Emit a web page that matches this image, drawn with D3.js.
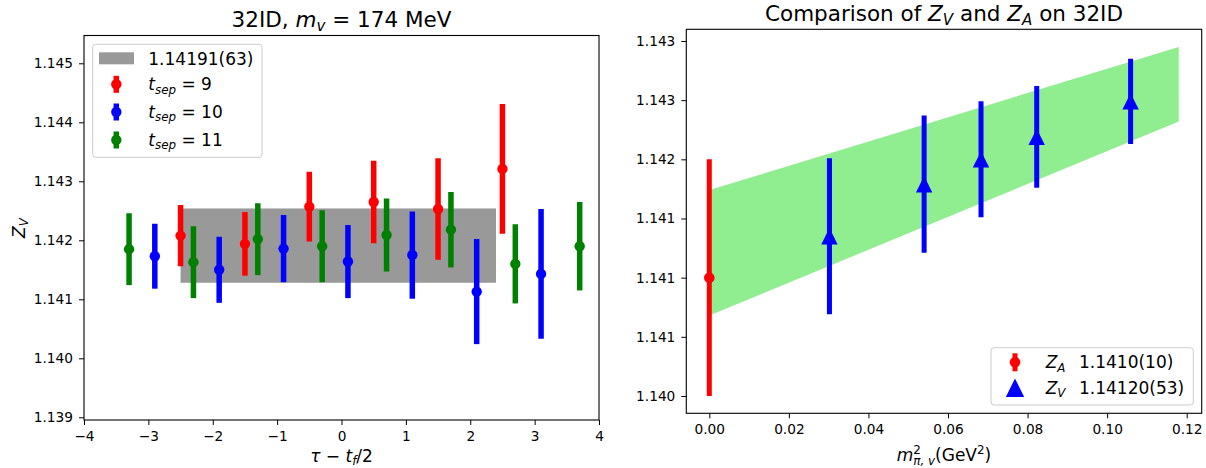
<!DOCTYPE html>
<html>
<head>
<meta charset="utf-8">
<script src="https://cdn.jsdelivr.net/npm/d3@7"></script>
<style>
  html, body { margin: 0; padding: 0; background: #fff; }
  svg text { font-family: "DejaVu Sans", sans-serif; fill: #000; }
</style>
</head>
<body>
<svg id="chart" width="1206" height="468"></svg>
<script>
// ---------------- data: left panel ----------------
const leftXTicks = [-4, -3, -2, -1, 0, 1, 2, 3, 4];
const leftXLabels = ["\u22124", "\u22123", "\u22122", "\u22121", "0", "1", "2", "3", "4"];
const leftYTicks = [1.139, 1.140, 1.141, 1.142, 1.143, 1.144, 1.145];
const leftYLabels = ["1.139", "1.140", "1.141", "1.142", "1.143", "1.144", "1.145"];

const tsep9X   = [-2.5, -1.5, -0.5, 0.5, 1.5, 2.5];
const tsep9Y   = [1.14208, 1.14194, 1.14257, 1.14265, 1.14253, 1.14321];
const tsep9Err = [0.00052, 0.00054, 0.00059, 0.00070, 0.00086, 0.00110];

const tsep10X   = [-2.9, -1.9, -0.9, 0.1, 1.1, 2.1, 3.1];
const tsep10Y   = [1.14173, 1.14150, 1.14186, 1.14164, 1.14175, 1.14113, 1.14143];
const tsep10Err = [0.00055, 0.00056, 0.00057, 0.00062, 0.00074, 0.00089, 0.00110];

const tsep11X   = [-3.3, -2.3, -1.3, -0.3, 0.7, 1.7, 2.7, 3.7];
const tsep11Y   = [1.14185, 1.14163, 1.14202, 1.14190, 1.14209, 1.14218, 1.14160, 1.14190];
const tsep11Err = [0.00061, 0.00061, 0.00061, 0.00061, 0.00062, 0.00064, 0.00067, 0.00075];

const fitMean = 1.14191;
const fitErr = 0.00063;
const fitRange = [-2.5, 2.4];
const fitLabel = "1.14191(63)";

// ---------------- data: right panel ----------------
const rightXTicks = [0.00, 0.02, 0.04, 0.06, 0.08, 0.10, 0.12];
const rightXLabels = ["0.00", "0.02", "0.04", "0.06", "0.08", "0.10", "0.12"];
const rightYTicks = [1.1400, 1.1405, 1.1410, 1.1415, 1.1420, 1.1425, 1.1430];
const rightYLabels = ["1.140", "1.141", "1.141", "1.141", "1.142", "1.143", "1.143"];

const zaX = [0.0];
const zaY = [1.1410];
const zaErr = [0.0010];
const zaLabel = "1.1410(10)";

const zvX = [0.0302, 0.0540, 0.0683, 0.0823, 0.1059];
const zvY = [1.14135, 1.14179, 1.14200, 1.14219, 1.14249];
const zvErr = [0.00066, 0.00058, 0.00049, 0.00043, 0.00036];
const zvLabel = "1.14120(53)";

const bandX = [0.0, 0.118];
const bandLow = [1.14068, 1.14232];
const bandHigh = [1.14174, 1.14295];

// ---------------- helpers ----------------
const svg = d3.select("#chart");
const FONT = "DejaVu Sans";
const TICK_FS = 13.7;

function rich(textSel, segs, size) {
  let cur = 0;
  segs.forEach(s => {
    const ts = textSel.append("tspan").text(s.t);
    let target = 0;
    if (s.sub) target = size * (s.shift !== undefined ? s.shift : 0.2);
    if (s.sup) target = -size * (s.shift !== undefined ? s.shift : 0.38);
    if (target - cur !== 0) ts.attr("dy", target - cur);
    cur = target;
    if (s.sub || s.sup) ts.attr("font-size", size * 0.7);
    if (s.i) ts.attr("font-style", "italic");
    if (s.dx) ts.attr("dx", s.dx);
    if (s.x !== undefined) ts.attr("x", s.x);
  });
  return textSel;
}

function styleAxis(g) {
  g.select(".domain").remove();
  g.selectAll(".tick line").attr("stroke", "#000").attr("stroke-width", 1);
  g.selectAll(".tick text").attr("font-family", FONT).attr("font-size", TICK_FS).attr("fill", "#000");
}

function errorbars(g, xs, ys, es, xScale, yScale, color, width) {
  g.selectAll(null).data(xs).enter().append("line")
    .attr("x1", (d) => xScale(d)).attr("x2", (d) => xScale(d))
    .attr("y1", (d, i) => yScale(ys[i] - es[i]))
    .attr("y2", (d, i) => yScale(ys[i] + es[i]))
    .attr("stroke", color).attr("stroke-width", width);
}

function triPath(cx, cy, r) {
  return `M${cx},${cy - r}L${cx - r},${cy + r}L${cx + r},${cy + r}Z`;
}

// ================= LEFT PANEL =================
const L = { x0: 84, x1: 599, y0: 35.5, y1: 420 };
const xL = d3.scaleLinear().domain([-4, 4]).range([84, 599]);
const yL = d3.scaleLinear().domain([1.139, 1.145]).range([417.3, 63.3]);

svg.append("clipPath").attr("id", "clipL").append("rect")
  .attr("x", L.x0).attr("y", L.y0).attr("width", L.x1 - L.x0).attr("height", L.y1 - L.y0);
const gL = svg.append("g").attr("clip-path", "url(#clipL)");

gL.append("rect")
  .attr("x", xL(fitRange[0])).attr("width", xL(fitRange[1]) - xL(fitRange[0]))
  .attr("y", yL(fitMean + fitErr)).attr("height", yL(fitMean - fitErr) - yL(fitMean + fitErr))
  .attr("fill", "#999999");

const seriesL = [
  { xs: tsep9X, ys: tsep9Y, es: tsep9Err, color: "#ff0000" },
  { xs: tsep10X, ys: tsep10Y, es: tsep10Err, color: "#0000ff" },
  { xs: tsep11X, ys: tsep11Y, es: tsep11Err, color: "#008000" }
];
seriesL.forEach(s => {
  const g = gL.append("g");
  errorbars(g, s.xs, s.ys, s.es, xL, yL, s.color, 5.5);
  g.selectAll(null).data(s.xs).enter().append("circle")
    .attr("cx", d => xL(d)).attr("cy", (d, i) => yL(s.ys[i])).attr("r", 5.2)
    .attr("fill", s.color);
});

svg.append("rect").attr("x", L.x0).attr("y", L.y0)
  .attr("width", L.x1 - L.x0).attr("height", L.y1 - L.y0)
  .attr("fill", "none").attr("stroke", "#000").attr("stroke-width", 1.1);

svg.append("g").attr("transform", `translate(0,${L.y1})`)
  .call(d3.axisBottom(xL).tickValues(leftXTicks).tickFormat((d, i) => leftXLabels[i]).tickSize(5).tickPadding(5.8))
  .call(styleAxis);
svg.append("g").attr("transform", `translate(${L.x0},0)`)
  .call(d3.axisLeft(yL).tickValues(leftYTicks).tickFormat((d, i) => leftYLabels[i]).tickSize(5).tickPadding(6))
  .call(styleAxis);

// title
rich(svg.append("text").attr("x", 341.5).attr("y", 26.5).attr("text-anchor", "middle").attr("font-size", 21.5),
  [{ t: "32ID, " }, { t: "m", i: true }, { t: "v", i: true, sub: true }, { t: " = 174 MeV" }], 21.5);

// x label
rich(svg.append("text").attr("x", 341.5).attr("y", 462).attr("text-anchor", "middle").attr("font-size", 17),
  [{ t: "\u03c4", i: true }, { t: " \u2212 " }, { t: "t", i: true }, { t: "f", i: true, sub: true }, { t: "/2" }], 17);

// y label
rich(svg.append("text").attr("transform", "translate(25,228) rotate(-90)").attr("text-anchor", "middle").attr("font-size", 17),
  [{ t: "Z", i: true }, { t: "V", i: true, sub: true }], 17);

// legend left
const lgL = svg.append("g");
lgL.append("rect").attr("x", 92.7).attr("y", 44.3).attr("width", 169.3).attr("height", 113)
  .attr("rx", 3).attr("fill", "#fff").attr("fill-opacity", 0.8).attr("stroke", "#cccccc").attr("stroke-width", 1);
lgL.append("rect").attr("x", 99).attr("y", 52.3).attr("width", 35).attr("height", 12).attr("fill", "#999999");
lgL.append("text").attr("x", 148.3).attr("y", 64.5).attr("font-size", 17).text(fitLabel);
const legRowsL = [
  { color: "#ff0000", label: "9", cy: 84.3 },
  { color: "#0000ff", label: "10", cy: 112 },
  { color: "#008000", label: "11", cy: 140 }
];
legRowsL.forEach(r => {
  lgL.append("line").attr("x1", 116.3).attr("x2", 116.3).attr("y1", r.cy - 8.5).attr("y2", r.cy + 8.5)
    .attr("stroke", r.color).attr("stroke-width", 5.5);
  lgL.append("circle").attr("cx", 116.3).attr("cy", r.cy).attr("r", 5.2).attr("fill", r.color);
  rich(lgL.append("text").attr("x", 148.3).attr("y", r.cy + 6).attr("font-size", 17),
    [{ t: "t", i: true }, { t: "sep", i: true, sub: true }, { t: " = " + r.label }], 17);
});

// ================= RIGHT PANEL =================
const R = { x0: 686.3, x1: 1201.7, y0: 29.3, y1: 413.3 };
const xR = d3.scaleLinear().domain([0, 0.12]).range([709.3, 1186.7]);
const yR = d3.scaleLinear().domain([1.140, 1.143]).range([396, 41]);

svg.append("clipPath").attr("id", "clipR").append("rect")
  .attr("x", R.x0).attr("y", R.y0).attr("width", R.x1 - R.x0).attr("height", R.y1 - R.y0);
const gR = svg.append("g").attr("clip-path", "url(#clipR)");

const bandData = bandX.map((x, i) => ({ x, lo: bandLow[i], hi: bandHigh[i] }));
gR.append("path").datum(bandData)
  .attr("d", d3.area().x(d => xR(d.x)).y0(d => yR(d.lo)).y1(d => yR(d.hi)))
  .attr("fill", "#90ee90");

const gZA = gR.append("g");
errorbars(gZA, zaX, zaY, zaErr, xR, yR, "#ff0000", 5);
gZA.selectAll(null).data(zaX).enter().append("circle")
  .attr("cx", d => xR(d)).attr("cy", (d, i) => yR(zaY[i])).attr("r", 5.3).attr("fill", "#ff0000");

const gZV = gR.append("g");
errorbars(gZV, zvX, zvY, zvErr, xR, yR, "#0000ff", 5);
gZV.selectAll(null).data(zvX).enter().append("path")
  .attr("d", (d, i) => triPath(xR(d), yR(zvY[i]), 8.2)).attr("fill", "#0000ff");

svg.append("rect").attr("x", R.x0).attr("y", R.y0)
  .attr("width", R.x1 - R.x0).attr("height", R.y1 - R.y0)
  .attr("fill", "none").attr("stroke", "#000").attr("stroke-width", 1.1);

svg.append("g").attr("transform", `translate(0,${R.y1})`)
  .call(d3.axisBottom(xR).tickValues(rightXTicks).tickFormat((d, i) => rightXLabels[i]).tickSize(5).tickPadding(5.8))
  .call(styleAxis);
svg.append("g").attr("transform", `translate(${R.x0},0)`)
  .call(d3.axisLeft(yR).tickValues(rightYTicks).tickFormat((d, i) => rightYLabels[i]).tickSize(5).tickPadding(6))
  .call(styleAxis);

// title
rich(svg.append("text").attr("x", 944).attr("y", 21).attr("text-anchor", "middle").attr("font-size", 21.5),
  [{ t: "Comparison of " }, { t: "Z", i: true }, { t: "V", i: true, sub: true }, { t: " and " },
   { t: "Z", i: true }, { t: "A", i: true, sub: true }, { t: " on 32ID" }], 21.5);

// x label
rich(svg.append("text").attr("x", 944).attr("y", 461).attr("text-anchor", "middle").attr("font-size", 17),
  [{ t: "m", i: true }, { t: "2", sup: true, shift: 0.42 }, { t: "\u03c0, v", i: true, sub: true, shift: 0.22, dx: -7.6 },
   { t: "(GeV" }, { t: "2", sup: true, shift: 0.4 }, { t: ")" }], 17);

// legend right
const lgR = svg.append("g");
lgR.append("rect").attr("x", 991).attr("y", 347.7).attr("width", 202.3).attr("height", 57.3)
  .attr("rx", 3).attr("fill", "#fff").attr("fill-opacity", 0.8).attr("stroke", "#cccccc").attr("stroke-width", 1);
lgR.append("line").attr("x1", 1015).attr("x2", 1015).attr("y1", 362.3 - 9).attr("y2", 362.3 + 9)
  .attr("stroke", "#ff0000").attr("stroke-width", 5);
lgR.append("circle").attr("cx", 1015).attr("cy", 362.3).attr("r", 5.3).attr("fill", "#ff0000");
lgR.append("path").attr("d", triPath(1015, 387.7, 9.2)).attr("fill", "#0000ff");
rich(lgR.append("text").attr("x", 1045.7).attr("y", 368.3).attr("font-size", 17),
  [{ t: "Z", i: true }, { t: "A", i: true, sub: true }, { t: zaLabel, x: 1079 }], 17);
rich(lgR.append("text").attr("x", 1045.7).attr("y", 393.5).attr("font-size", 17),
  [{ t: "Z", i: true }, { t: "V", i: true, sub: true }, { t: zvLabel, x: 1079 }], 17);
</script>
</body>
</html>
